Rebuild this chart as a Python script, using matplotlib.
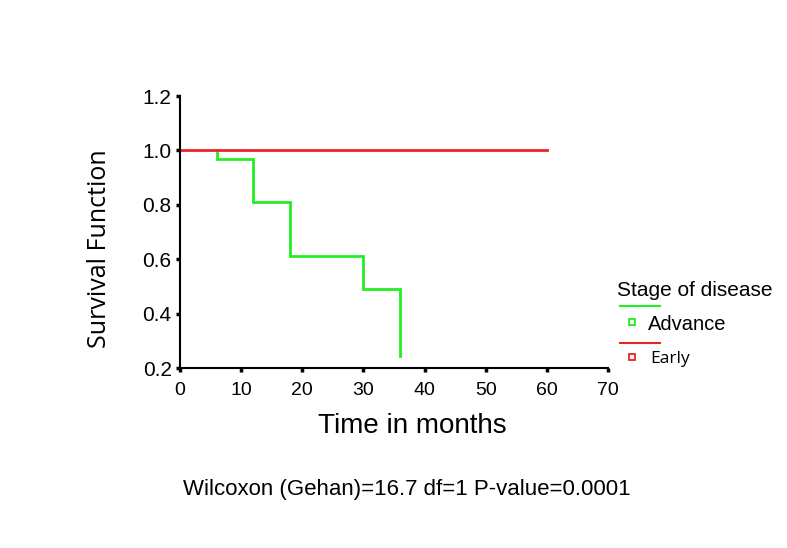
import matplotlib
matplotlib.use("Agg")
import matplotlib.pyplot as plt
from matplotlib.lines import Line2D

plt.rcParams['font.family'] = ['Liberation Sans', 'DejaVu Sans']

# Data
adv_times = [0, 6, 12, 18, 30, 36]
adv_surv = [1.0, 0.967, 0.812, 0.613, 0.49, 0.245]
early_times = [0, 60]
early_surv = [1.0, 1.0]
x_ticks = [0, 10, 20, 30, 40, 50, 60, 70]
y_ticks = [0.2, 0.4, 0.6, 0.8, 1.0, 1.2]
groups = ["Advance", "Early"]
colors = ["#22ee22", "#e8232b"]

fig = plt.figure(figsize=(7.87, 5.48), dpi=100)
ax = fig.add_axes([180/787, 1-368/548, 428/787, 272/548])

# Advance group step curve
xs, ys = [], []
for i, (t, s) in enumerate(zip(adv_times, adv_surv)):
    if i > 0:
        xs.append(t); ys.append(adv_surv[i-1])
    xs.append(t); ys.append(s)
ax.plot(xs[1:], ys[1:], color=colors[0], lw=2, solid_joinstyle='miter')
ax.plot(early_times, early_surv, color=colors[1], lw=2)

ax.set_xlim(0, 70)
ax.set_ylim(0.2, 1.2)
ax.set_xticks(x_ticks)
ax.set_yticks(y_ticks)
ax.set_yticklabels([f"{v:.1f}" for v in y_ticks], fontsize=15)
ax.set_xticklabels([str(v) for v in x_ticks], fontsize=14)
ax.spines['top'].set_visible(False)
ax.spines['right'].set_visible(False)
ax.spines['left'].set_linewidth(1.5)
ax.spines['bottom'].set_linewidth(1.5)
ax.tick_params(axis='y', direction='out', length=3, width=2.5, pad=3)
ax.tick_params(axis='x', direction='out', length=3, width=2.5, pad=7)
ax.set_xlabel("Time in months", fontsize=20)
ax.xaxis.set_label_coords((412-180)/428, (368-413)/272)
ax.set_ylabel("Survival Function", fontsize=18,
              family=['Open Sans', 'DejaVu Sans'])
ax.yaxis.set_label_coords((112-180)/428, (368-249)/272)

# Legend drawn manually in figure pixel coords
def fx(px): return px/787
def fy(py): return 1 - py/548
fig.text(fx(617), fy(291), "Stage of disease", fontsize=15, va='center', ha='left')
fig.add_artist(Line2D([fx(620), fx(660)], [fy(306), fy(306)], color=colors[0], lw=1.5))
fig.add_artist(Line2D([fx(632)], [fy(322)], marker='s', markersize=5, mfc='white', mec=colors[0], mew=1.3, ls='none'))
fig.text(fx(648), fy(325), groups[0], fontsize=14.5, va='center', ha='left')
fig.add_artist(Line2D([fx(620), fx(660)], [fy(343), fy(343)], color=colors[1], lw=1.5))
fig.add_artist(Line2D([fx(632)], [fy(357)], marker='s', markersize=5, mfc='white', mec=colors[1], mew=1.3, ls='none'))
fig.text(fx(650), fy(359), groups[1], fontsize=12.5, va='center', ha='left', family=['Open Sans', 'DejaVu Sans'])

fig.text(fx(407), fy(489), "Wilcoxon (Gehan)=16.7 df=1 P-value=0.0001", fontsize=16, ha='center', va='center')

fig.savefig("out.png", dpi=100)
